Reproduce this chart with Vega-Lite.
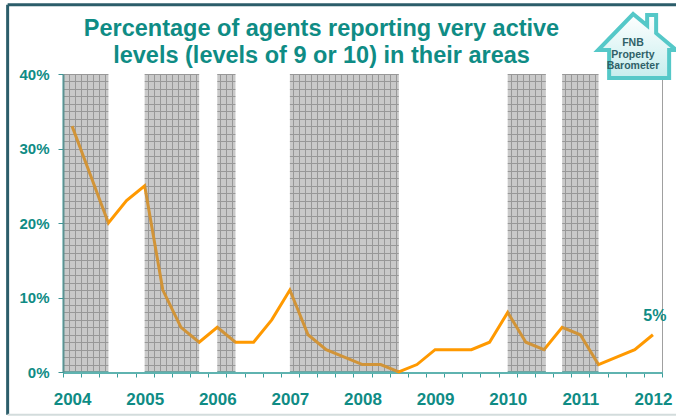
{
  "$schema": "https://vega.github.io/schema/vega-lite/v6.json",
  "width": 599,
  "height": 298,
  "autosize": "none",
  "padding": {"left": 63, "top": 74, "right": 14, "bottom": 45},
  "background": "white",
  "title": {
    "text": ["Percentage of agents reporting very active", "levels (levels of 9 or 10) in their areas"],
    "font": "Liberation Sans",
    "fontSize": 23.5,
    "fontWeight": "bold",
    "color": "#0f8c85",
    "anchor": "middle",
    "frame": "group",
    "dx": -41,
    "dy": 74.5,
    "offset": 10,
    "lineHeight": 27
  },
  "config": {"view": {"fill": "#f2f2f2", "stroke": null}, "font": "Liberation Sans"},
  "datasets": {
    "series": [
      {"quarter": "2004Q1", "t": 0, "pct": 33},
      {"quarter": "2004Q2", "t": 1, "pct": 26.5},
      {"quarter": "2004Q3", "t": 2, "pct": 20},
      {"quarter": "2004Q4", "t": 3, "pct": 23},
      {"quarter": "2005Q1", "t": 4, "pct": 25},
      {"quarter": "2005Q2", "t": 5, "pct": 11},
      {"quarter": "2005Q3", "t": 6, "pct": 6},
      {"quarter": "2005Q4", "t": 7, "pct": 4},
      {"quarter": "2006Q1", "t": 8, "pct": 6},
      {"quarter": "2006Q2", "t": 9, "pct": 4},
      {"quarter": "2006Q3", "t": 10, "pct": 4},
      {"quarter": "2006Q4", "t": 11, "pct": 7},
      {"quarter": "2007Q1", "t": 12, "pct": 11},
      {"quarter": "2007Q2", "t": 13, "pct": 5},
      {"quarter": "2007Q3", "t": 14, "pct": 3},
      {"quarter": "2007Q4", "t": 15, "pct": 2},
      {"quarter": "2008Q1", "t": 16, "pct": 1},
      {"quarter": "2008Q2", "t": 17, "pct": 1},
      {"quarter": "2008Q3", "t": 18, "pct": 0},
      {"quarter": "2008Q4", "t": 19, "pct": 1},
      {"quarter": "2009Q1", "t": 20, "pct": 3},
      {"quarter": "2009Q2", "t": 21, "pct": 3},
      {"quarter": "2009Q3", "t": 22, "pct": 3},
      {"quarter": "2009Q4", "t": 23, "pct": 4},
      {"quarter": "2010Q1", "t": 24, "pct": 8},
      {"quarter": "2010Q2", "t": 25, "pct": 4},
      {"quarter": "2010Q3", "t": 26, "pct": 3},
      {"quarter": "2010Q4", "t": 27, "pct": 6},
      {"quarter": "2011Q1", "t": 28, "pct": 5},
      {"quarter": "2011Q2", "t": 29, "pct": 1},
      {"quarter": "2011Q3", "t": 30, "pct": 2},
      {"quarter": "2011Q4", "t": 31, "pct": 3},
      {"quarter": "2012Q1", "t": 32, "pct": 5}
    ],
    "periods": [
      {"kind": "shaded", "start": -0.5, "end": 2},
      {"kind": "clear", "start": 2, "end": 4},
      {"kind": "shaded", "start": 4, "end": 7},
      {"kind": "clear", "start": 7, "end": 8},
      {"kind": "shaded", "start": 8, "end": 9},
      {"kind": "clear", "start": 9, "end": 12},
      {"kind": "shaded", "start": 12, "end": 18},
      {"kind": "clear", "start": 18, "end": 24},
      {"kind": "shaded", "start": 24, "end": 26.1},
      {"kind": "clear", "start": 26.1, "end": 27},
      {"kind": "shaded", "start": 27, "end": 29},
      {"kind": "clear", "start": 29, "end": 32.5}
    ]
  },
  "layer": [
    {
      "data": {"name": "periods"},
      "transform": [{"filter": "datum.kind === 'clear'"}],
      "mark": {"type": "rect", "color": "white"},
      "encoding": {
        "x": {
          "field": "start",
          "type": "quantitative",
          "scale": {"domain": [-0.5, 32.5], "nice": false, "zero": false},
          "axis": {
            "title": null,
            "tickCount": 500,
            "values": [-0.5, -0.167, 0.167, 0.5, 0.833, 1.167, 1.5, 1.833, 2.167, 2.5, 2.833, 3.167, 3.5, 3.833, 4.167, 4.5, 4.833, 5.167, 5.5, 5.833, 6.167, 6.5, 6.833, 7.167, 7.5, 7.833, 8.167, 8.5, 8.833, 9.167, 9.5, 9.833, 10.167, 10.5, 10.833, 11.167, 11.5, 11.833, 12.167, 12.5, 12.833, 13.167, 13.5, 13.833, 14.167, 14.5, 14.833, 15.167, 15.5, 15.833, 16.167, 16.5, 16.833, 17.167, 17.5, 17.833, 18.167, 18.5, 18.833, 19.167, 19.5, 19.833, 20.167, 20.5, 20.833, 21.167, 21.5, 21.833, 22.167, 22.5, 22.833, 23.167, 23.5, 23.833, 24.167, 24.5, 24.833, 25.167, 25.5, 25.833, 26.167, 26.5, 26.833, 27.167, 27.5, 27.833, 28.167, 28.5, 28.833, 29.167, 29.5, 29.833, 30.167, 30.5, 30.833, 31.167, 31.5, 31.833, 32.167, 32.5],
            "grid": true,
            "gridColor": "#a0a0a0",
            "gridWidth": 1,
            "domainColor": "#5fb3b0",
            "domainWidth": 3,
            "tickColor": "#3a9e9a",
            "tickSize": 5,
            "tickWidth": 1,
            "tickOpacity": {"condition": {"test": "abs(datum.value + 0.5 - round(datum.value + 0.5)) < 0.01", "value": 1}, "value": 0},
            "labelExpr": "abs(datum.value + 0.5 - round(datum.value + 0.5)) < 0.01 && round(datum.value + 0.5) % 4 === 0 ? '' + (2004 + round(datum.value + 0.5) / 4) : ''",
            "labelOffset": 9.08,
            "labelFlush": false,
            "labelOverlap": false,
            "labelBound": false,
            "labelFontSize": 17,
            "labelFontWeight": "bold",
            "labelColor": "#0f8c85",
            "labelPadding": 14
          }
        },
        "x2": {"field": "end"},
        "y": {
          "datum": 0,
          "type": "quantitative",
          "scale": {"domain": [0, 40], "nice": false, "zero": true},
          "axis": {
            "title": null,
            "tickCount": 500,
            "values": [0, 1, 2, 3, 4, 5, 6, 7, 8, 9, 10, 11, 12, 13, 14, 15, 16, 17, 18, 19, 20, 21, 22, 23, 24, 25, 26, 27, 28, 29, 30, 31, 32, 33, 34, 35, 36, 37, 38, 39, 40],
            "grid": true,
            "gridColor": "#a0a0a0",
            "gridWidth": 1,
            "domainColor": "#3f9494",
            "domainWidth": 2,
            "tickColor": "#3f9494",
            "tickSize": 5,
            "tickOpacity": {"condition": {"test": "datum.value % 10 === 0", "value": 1}, "value": 0},
            "labelExpr": "datum.value % 10 === 0 ? datum.value + '%' : ''",
            "labelFontSize": 15,
            "labelFontWeight": "bold",
            "labelColor": "#0f8c85",
            "labelPadding": 9,
            "labelOverlap": false,
            "labelFlush": false
          }
        },
        "y2": {"datum": 40}
      }
    },
    {
      "data": {"name": "series"},
      "mark": {"type": "line", "color": "#FF9900", "strokeWidth": 3},
      "encoding": {
        "x": {"field": "t", "type": "quantitative"},
        "y": {"field": "pct", "type": "quantitative"}
      }
    },
    {
      "data": {"name": "periods"},
      "transform": [{"filter": "datum.kind === 'shaded'"}],
      "mark": {"type": "rect", "color": "#8c8c8c", "opacity": 0.4},
      "encoding": {
        "x": {"field": "start", "type": "quantitative"},
        "x2": {"field": "end"},
        "y": {"datum": 0, "type": "quantitative"},
        "y2": {"datum": 40}
      }
    },
    {
      "data": {"name": "series"},
      "transform": [{"filter": "datum.t === 32"}],
      "mark": {"type": "text", "dy": -19, "dx": 2, "fontSize": 16, "fontWeight": "bold", "color": "#0f8c85"},
      "encoding": {
        "x": {"field": "t", "type": "quantitative"},
        "y": {"field": "pct", "type": "quantitative"},
        "text": {"value": "5%"}
      }
    },
    {
      "data": {"values": [{"frame": "top"}]},
      "mark": {"type": "rule", "color": "#2b5d6a", "strokeWidth": 3, "clip": false},
      "encoding": {
        "x": {"datum": -3.55, "type": "quantitative"},
        "x2": {"datum": 34},
        "y": {"datum": 49.3, "type": "quantitative"}
      }
    },
    {
      "data": {"values": [{"frame": "left"}]},
      "mark": {"type": "rule", "color": "#2b5d6a", "strokeWidth": 3, "clip": false},
      "encoding": {
        "x": {"datum": -3.55, "type": "quantitative"},
        "y": {"datum": 49.3, "type": "quantitative"},
        "y2": {"datum": -5.75}
      }
    },
    {
      "data": {"values": [{"frame": "bottom"}]},
      "mark": {"type": "rule", "color": "#d3dcdc", "strokeWidth": 2, "clip": false},
      "encoding": {
        "x": {"datum": -3.55, "type": "quantitative"},
        "x2": {"datum": 34},
        "y": {"datum": -5.75, "type": "quantitative"}
      }
    },
    {
      "data": {"values": [{"logo": "FNB Property Barometer"}]},
      "mark": {
        "type": "point",
        "shape": "M -0.1 -0.8 L 0.25 -0.51 L 0.25 -0.775 L 0.475 -0.775 L 0.475 -0.32 L 0.975 0.1 L 0.8 0.1 L 0.8 0.8 L -0.7 0.8 L -0.7 0.1 L -0.975 0.1 Z",
        "size": 6400,
        "filled": true,
        "fill": {"gradient": "linear", "x1": 0, "y1": 0, "x2": 0, "y2": 1, "stops": [{"offset": 0, "color": "#ffffff"}, {"offset": 1, "color": "#c6eded"}]},
        "stroke": "#55c8c8",
        "strokeWidth": 4,
        "opacity": 1,
        "clip": false
      },
      "encoding": {
        "x": {"datum": 31.13, "type": "quantitative"},
        "y": {"datum": 43.76, "type": "quantitative"}
      }
    },
    {
      "data": {"values": [{"logo": "FNB Property Barometer"}]},
      "mark": {
        "type": "text",
        "text": ["FNB", "Property", "Barometer"],
        "fontSize": 10.5,
        "fontWeight": "bold",
        "color": "#2f6168",
        "lineHeight": 11.5,
        "baseline": "middle",
        "clip": false
      },
      "encoding": {
        "x": {"datum": 30.9, "type": "quantitative"},
        "y": {"datum": 44.16, "type": "quantitative"}
      }
    }
  ]
}
